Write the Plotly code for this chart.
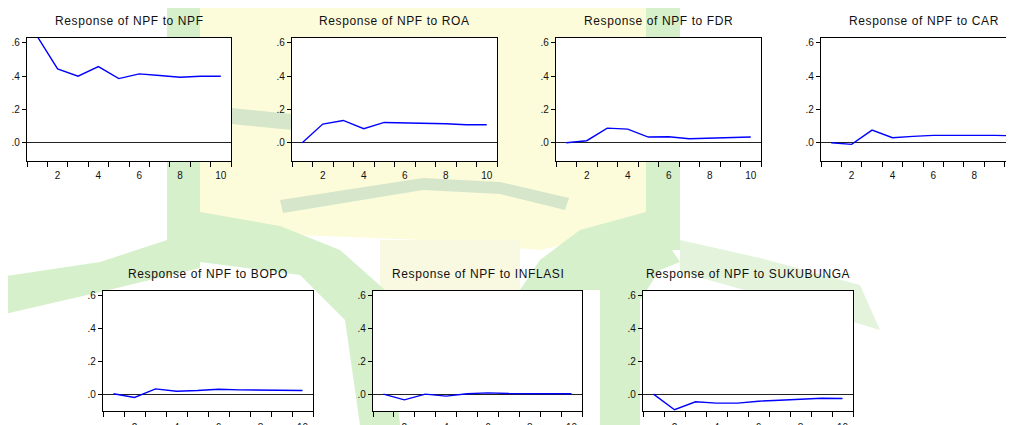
import plotly.graph_objects as go

# impulse responses of NPF, periods 1..10
periods = [1, 2, 3, 4, 5, 6, 7, 8, 9, 10]

npf_npf = [0.64, 0.444, 0.400, 0.458, 0.386, 0.414, 0.404, 0.394, 0.400, 0.400]
npf_roa = [0.0, 0.112, 0.134, 0.084, 0.122, 0.120, 0.114, 0.114, 0.108, 0.108]
npf_fdr = [0.0, 0.012, 0.088, 0.082, 0.034, 0.036, 0.024, 0.026, 0.032, 0.034]
npf_car = [0.0, -0.010, 0.076, 0.030, 0.038, 0.044, 0.044, 0.046, 0.044, 0.042]
npf_bopo = [0.002, -0.020, 0.032, 0.018, 0.022, 0.030, 0.026, 0.026, 0.022, 0.022]
npf_inflasi = [0.0, -0.035, 0.0, -0.012, 0.002, 0.008, 0.004, 0.004, 0.002, 0.002]
npf_sukubunga = [0.0, -0.095, -0.047, -0.055, -0.055, -0.043, -0.037, -0.031, -0.025, -0.027]

titles = ["Response of NPF to NPF", "Response of NPF to ROA", "Response of NPF to FDR",
          "Response of NPF to CAR", "Response of NPF to BOPO", "Response of NPF to INFLASI",
          "Response of NPF to SUKUBUNGA"]
series = [npf_npf, npf_roa, npf_fdr, npf_car, npf_bopo, npf_inflasi, npf_sukubunga]

y_ticks = [0.0, 0.2, 0.4, 0.6]
y_text = [".0", ".2", ".4", ".6"]
x_ticks = [2, 4, 6, 8, 10]
x_bounds = [0.5, 1.5, 2.5, 3.5, 4.5, 5.5, 6.5, 7.5, 8.5, 9.5, 10.5]

# the page body keeps its default 8px margin, so the figure is drawn 8px
# smaller and every page-pixel position is shifted back by that margin
PAGE_W, PAGE_H = 1014, 425
OFF = 8
W, H = PAGE_W - OFF, PAGE_H - OFF


def px(x):
    return (x - OFF) / W


def py(y):
    return 1 - (y - OFF) / H


# panel boxes in page pixels: (left, right, top, bottom, x max shown)
boxes = [
    (27, 231, 38, 161, 10.5),
    (292, 497, 38, 161, 10.5),
    (556, 761, 38, 161, 10.5),
    (821, 1014, 38, 161, 9.95),
    (103, 313, 291, 411, 10.5),
    (373, 582, 291, 411, 10.5),
    (643, 853, 291, 411, 10.5),
]

FONT = "Liberation Sans, Arial, sans-serif"


def path(points):
    pts = [f"{px(x):.4f},{py(y):.4f}" for x, y in points]
    return "M " + " L ".join(pts) + " Z"


# faint page watermark behind the charts (a logo, roughly)
YEL = "#fdfcda"
YEL2 = "#f8f9e0"
GRN = "#d5f0ca"
GRN2 = "#e4f4dc"
GRY = "#d6e6cb"
watermark = [
    (YEL, [(200, 0), (646, 0), (646, 225), (540, 250), (423, 240), (300, 235), (200, 220)]),
    (YEL2, [(380, 240), (520, 240), (520, 300), (380, 300)]),
    (GRN, [(167, 0), (200, 0), (200, 250), (167, 250)]),
    (GRN, [(646, 0), (680, 0), (680, 250), (646, 250)]),
    (GRY, [(280, 200), (423, 178), (423, 190), (283, 213)]),
    (GRY, [(423, 178), (500, 182), (569, 198), (565, 210), (500, 194), (423, 190)]),
    (GRY, [(231, 108), (292, 114), (292, 130), (231, 124)]),
    # left arcs
    (GRN, [(0, 277), (100, 262), (167, 240), (200, 240), (200, 268), (100, 292), (0, 315)]),
    (GRN, [(200, 212), (280, 226), (340, 250), (385, 290), (400, 425), (360, 425),
           (345, 320), (300, 275), (200, 262)]),
    # right arcs
    (GRN, [(646, 212), (580, 230), (540, 260), (520, 290), (600, 290), (600, 425),
           (640, 425), (640, 300), (660, 270), (680, 262)]),
    (GRN2, [(680, 240), (760, 258), (860, 285), (880, 330), (780, 300), (680, 272)]),
]

fig = go.Figure()
layout = {}
shapes = [dict(type="path", path=path(pts), xref="paper", yref="paper",
               fillcolor=col, line=dict(width=0), layer="below")
          for col, pts in watermark]

for i, (vals, title, (l, r, t, b, xmax)) in enumerate(zip(series, titles, boxes), start=1):
    sfx = "" if i == 1 else str(i)
    fig.add_trace(go.Scatter(
        x=periods, y=vals, mode="lines", xaxis="x" + sfx, yaxis="y" + sfx,
        line=dict(color="#0000ff", width=1.4), showlegend=False, hoverinfo="skip",
    ))
    # white plot area over the watermark
    shapes.append(dict(type="rect", xref="paper", yref="paper",
                       x0=px(l), x1=px(r), y0=py(b), y1=py(t),
                       fillcolor="white", line=dict(width=0), layer="below"))
    top_val = 0.63
    bot_val = -0.11 if i <= 4 else -0.103
    # automargin off: the bottom row's labels run off the page as in the original
    layout["xaxis" + sfx] = dict(
        domain=[px(l), min(px(r), 1.0)], anchor="y" + sfx, range=[0.5, xmax],
        automargin=False,
        tickvals=x_ticks, ticks="outside", ticklen=5 if i <= 4 else 7,
        tickcolor="rgba(0,0,0,0)",
        showgrid=False, zeroline=False,
        showline=True, linecolor="black", linewidth=1.3, mirror=True,
        tickfont=dict(family=FONT, size=10, color="#111111"),
        minor=dict(tickvals=x_bounds, ticks="outside", ticklen=5,
                   tickcolor="black", tickwidth=1, showgrid=False),
    )
    layout["yaxis" + sfx] = dict(
        domain=[py(b), py(t)], anchor="x" + sfx, range=[bot_val, top_val],
        automargin=False,
        tickvals=y_ticks, ticktext=y_text, ticks="outside", ticklen=4,
        tickcolor="black", showgrid=False,
        zeroline=True, zerolinecolor="#222222", zerolinewidth=1,
        showline=True, linecolor="black", linewidth=1.3, mirror=(i != 4),
        tickfont=dict(family=FONT, size=10, color="#111111"),
    )
    full_r = l + 205 if i == 4 else r
    fig.add_annotation(
        x=px((l + full_r) / 2), y=py(t - 17), xref="paper", yref="paper",
        text=f'<span style="letter-spacing:0.6px">{title}</span>',
        showarrow=False, xanchor="center", yanchor="middle",
        font=dict(family=FONT, size=12, color="#111111"),
    )

fig.update_layout(
    width=W, height=H, margin=dict(l=0, r=0, t=0, b=0, autoexpand=False),
    paper_bgcolor="white", plot_bgcolor="rgba(0,0,0,0)", shapes=shapes, **layout,
)

fig.write_html("out.html")
